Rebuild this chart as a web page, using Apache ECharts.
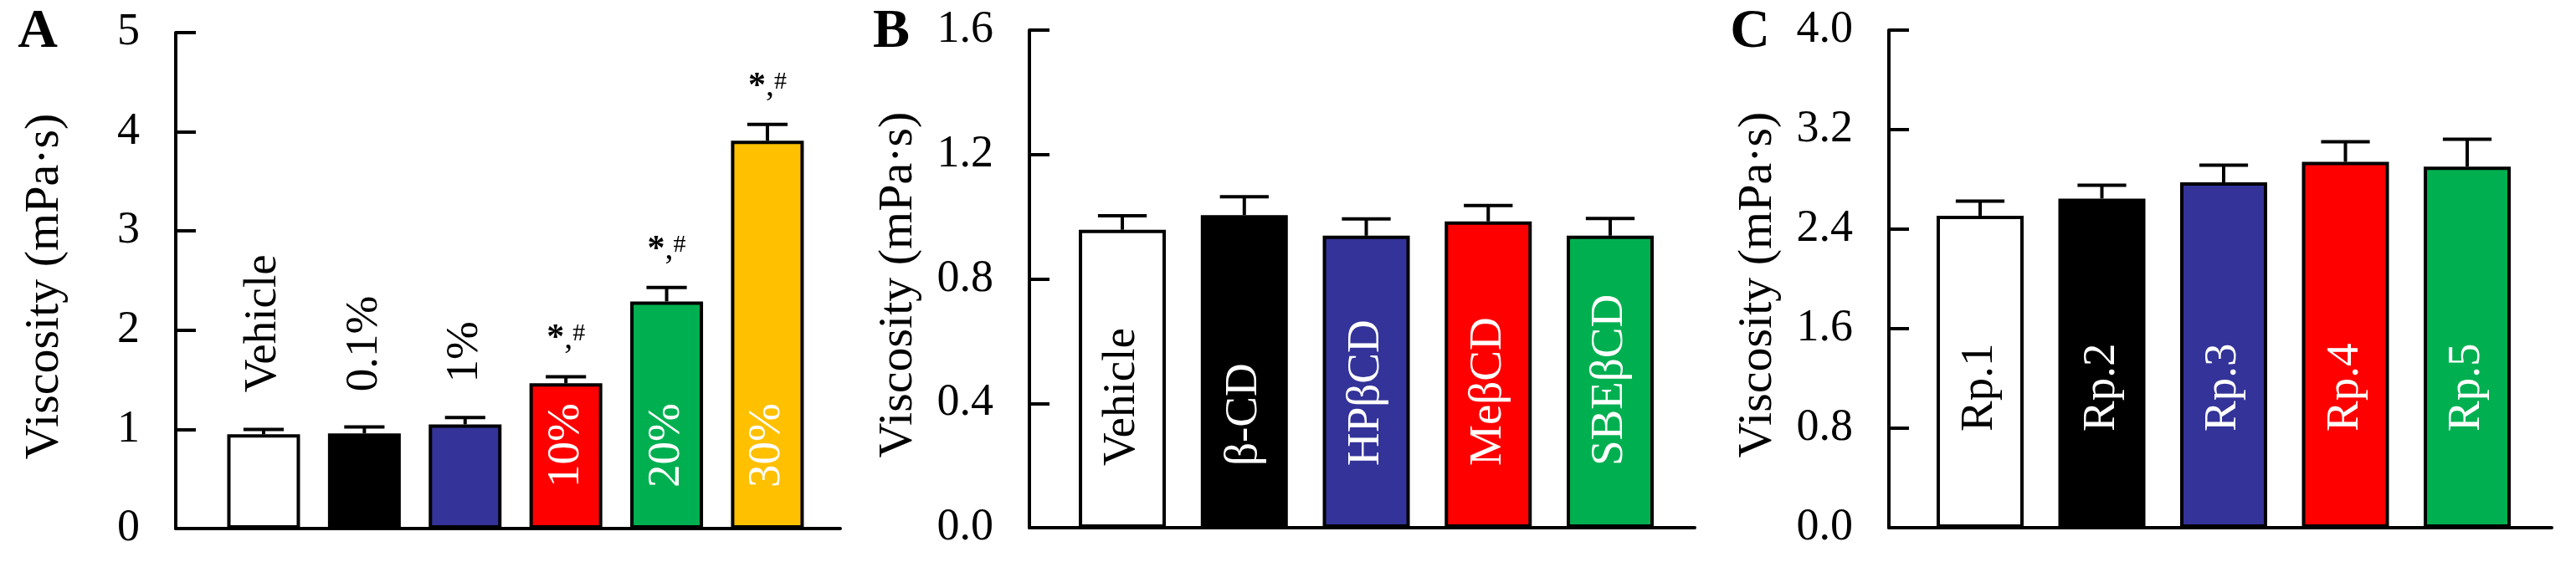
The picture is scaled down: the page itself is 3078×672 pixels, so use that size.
<!DOCTYPE html>
<html>
<head>
<meta charset="utf-8">
<script src="https://cdn.jsdelivr.net/npm/echarts@6/dist/echarts.min.js"></script>
<style>
  html, body { margin: 0; padding: 0; background: #fff; }
  #chart { width: 3078px; height: 672px; }
</style>
</head>
<body>
<div id="chart"></div>
<script>
// panel A: concentration series
const catA = ['Vehicle', '0.1%', '1%', '10%', '20%', '30%']
const meanA = [0.95, 0.96, 1.05, 1.465, 2.29, 3.91]
const errA = [0.05, 0.065, 0.07, 0.065, 0.14, 0.165]
const sigA = ['', '', '', '*,#', '*,#', '*,#']

// panel B: cyclodextrins
const catB = ['Vehicle', 'β-CD', 'HPβCD', 'MeβCD', 'SBEβCD']
const meanB = [0.958, 1.005, 0.939, 0.985, 0.939]
const errB = [0.045, 0.059, 0.054, 0.051, 0.055]

// panel C: replicates
const catC = ['Rp.1', 'Rp.2', 'Rp.3', 'Rp.4', 'Rp.5']
const meanC = [2.508, 2.646, 2.776, 2.941, 2.903]
const errC = [0.118, 0.107, 0.139, 0.161, 0.22]

const ticksA = [0, 1, 2, 3, 4, 5]
const ticksB = [0, 0.4, 0.8, 1.2, 1.6]
const ticksC = [0, 0.8, 1.6, 2.4, 3.2, 4.0]

const fillColors = ['#ffffff', '#000000', '#333399', '#ff0000', '#00b050', '#ffc000']
const FONT = '"Liberation Serif", "Times New Roman", serif'

function barLabel (i, inside, dist) {
  return {
    show: true,
    formatter: '{b}',
    position: inside ? 'insideBottom' : 'top',
    distance: dist,
    rotate: 90,
    align: 'left',
    verticalAlign: 'middle',
    fontFamily: FONT,
    fontSize: 55,
    color: (i === 0 || !inside) ? '#000' : '#fff'
  }
}

function barData (cats, means, labelFn) {
  return cats.map((c, i) => ({
    name: c,
    value: [i + 1, means[i]],
    itemStyle: { color: fillColors[i] },
    label: labelFn(i)
  }))
}

function errData (means, errs, sigs) {
  return means.map((m, i) => [i + 1, m, errs[i], sigs ? sigs[i] : ''])
}

function renderErr (params, api) {
  let x = api.value(0)
  let m = api.value(1)
  let e = api.value(2)
  let sig = api.value(3)
  let p0 = api.coord([x, m])
  let p1 = api.coord([x, m + e])
  let half = api.size([1, 0])[0] * 0.2
  let style = { stroke: '#000', lineWidth: 4 }
  let children = [
    { type: 'line', shape: { x1: p0[0], y1: p0[1], x2: p1[0], y2: p1[1] }, style: style },
    { type: 'line', shape: { x1: p1[0] - half, y1: p1[1], x2: p1[0] + half, y2: p1[1] }, style: style }
  ]
  if (sig) {
    children.push({
      type: 'text',
      x: p1[0],
      y: p1[1] - 24,
      style: {
        text: '{a|*}{b|,}{c|#}',
        align: 'center',
        verticalAlign: 'bottom',
        rich: {
          a: { fontFamily: FONT, fontSize: 42, fontWeight: 'bold', fill: '#000' },
          b: { fontFamily: FONT, fontSize: 40, fill: '#000' },
          c: { fontFamily: FONT, fontSize: 30, fill: '#000', verticalAlign: 'top' }
        }
      }
    })
  }
  return { type: 'group', children: children }
}

function xAxisFor (idx, min, max) {
  return {
    gridIndex: idx,
    type: 'value',
    min: min,
    max: max,
    axisLine: { show: true, onZero: false, lineStyle: { color: '#000', width: 4 } },
    axisTick: { show: false },
    axisLabel: { show: false },
    splitLine: { show: false }
  }
}

function yAxisFor (idx, ticks, digits) {
  return {
    gridIndex: idx,
    type: 'value',
    min: ticks[0],
    max: ticks[ticks.length - 1],
    interval: ticks[1] - ticks[0],
    axisLine: { show: true, onZero: false, lineStyle: { color: '#000', width: 4 } },
    axisTick: { show: true, inside: true, length: 24, lineStyle: { color: '#000', width: 4 } },
    axisLabel: {
      fontFamily: FONT,
      fontSize: 54,
      color: '#000',
      margin: 43,
      formatter: (v) => v.toFixed(digits)
    },
    splitLine: { show: false },
    name: 'Viscosity (mPa·s)',
    nameLocation: 'middle',
    nameRotate: 90,
    nameGap: 127,
    nameTextStyle: { fontFamily: FONT, fontSize: 58, color: '#000', padding: [0, 14, 0, 0] }
  }
}

const barStyle = { borderColor: '#000', borderWidth: 4 }

let myChart = echarts.init(document.getElementById('chart'))
myChart.setOption({
  animation: false,
  grid: [
    { left: 210, top: 39, width: 794, height: 593 },
    { left: 1230, top: 36, width: 795, height: 595 },
    { left: 2257, top: 36, width: 792, height: 595 }
  ],
  graphic: [
    { type: 'text', x: 45, y: 39, style: { text: 'A', fontFamily: FONT, fontSize: 66, fontWeight: 'bold', fill: '#000', align: 'center', verticalAlign: 'middle' } },
    { type: 'text', x: 1065, y: 39, style: { text: 'B', fontFamily: FONT, fontSize: 66, fontWeight: 'bold', fill: '#000', align: 'center', verticalAlign: 'middle' } },
    { type: 'text', x: 2091, y: 39, style: { text: 'C', fontFamily: FONT, fontSize: 66, fontWeight: 'bold', fill: '#000', align: 'center', verticalAlign: 'middle' } }
  ],
  xAxis: [
    xAxisFor(0, 0.128, 6.723),
    xAxisFor(1, 0.238, 5.693),
    xAxisFor(2, 0.251, 5.694)
  ],
  yAxis: [
    yAxisFor(0, ticksA, 0),
    yAxisFor(1, ticksB, 1),
    yAxisFor(2, ticksC, 1)
  ],
  series: [
    {
      type: 'bar', xAxisIndex: 0, yAxisIndex: 0, barWidth: 87,
      itemStyle: barStyle,
      data: barData(catA, meanA, (i) => i < 3 ? barLabel(i, false, 50) : barLabel(i, true, 49))
    },
    {
      type: 'custom', xAxisIndex: 0, yAxisIndex: 0, z: 3,
      renderItem: renderErr, data: errData(meanA, errA, sigA)
    },
    {
      type: 'bar', xAxisIndex: 1, yAxisIndex: 1, barWidth: 104,
      itemStyle: barStyle,
      data: barData(catB, meanB, (i) => barLabel(i, true, 74))
    },
    {
      type: 'custom', xAxisIndex: 1, yAxisIndex: 1, z: 3,
      renderItem: renderErr, data: errData(meanB, errB)
    },
    {
      type: 'bar', xAxisIndex: 2, yAxisIndex: 2, barWidth: 104,
      itemStyle: barStyle,
      data: barData(catC, meanC, (i) => barLabel(i, true, 115))
    },
    {
      type: 'custom', xAxisIndex: 2, yAxisIndex: 2, z: 3,
      renderItem: renderErr, data: errData(meanC, errC)
    }
  ]
})
</script>
</body>
</html>
